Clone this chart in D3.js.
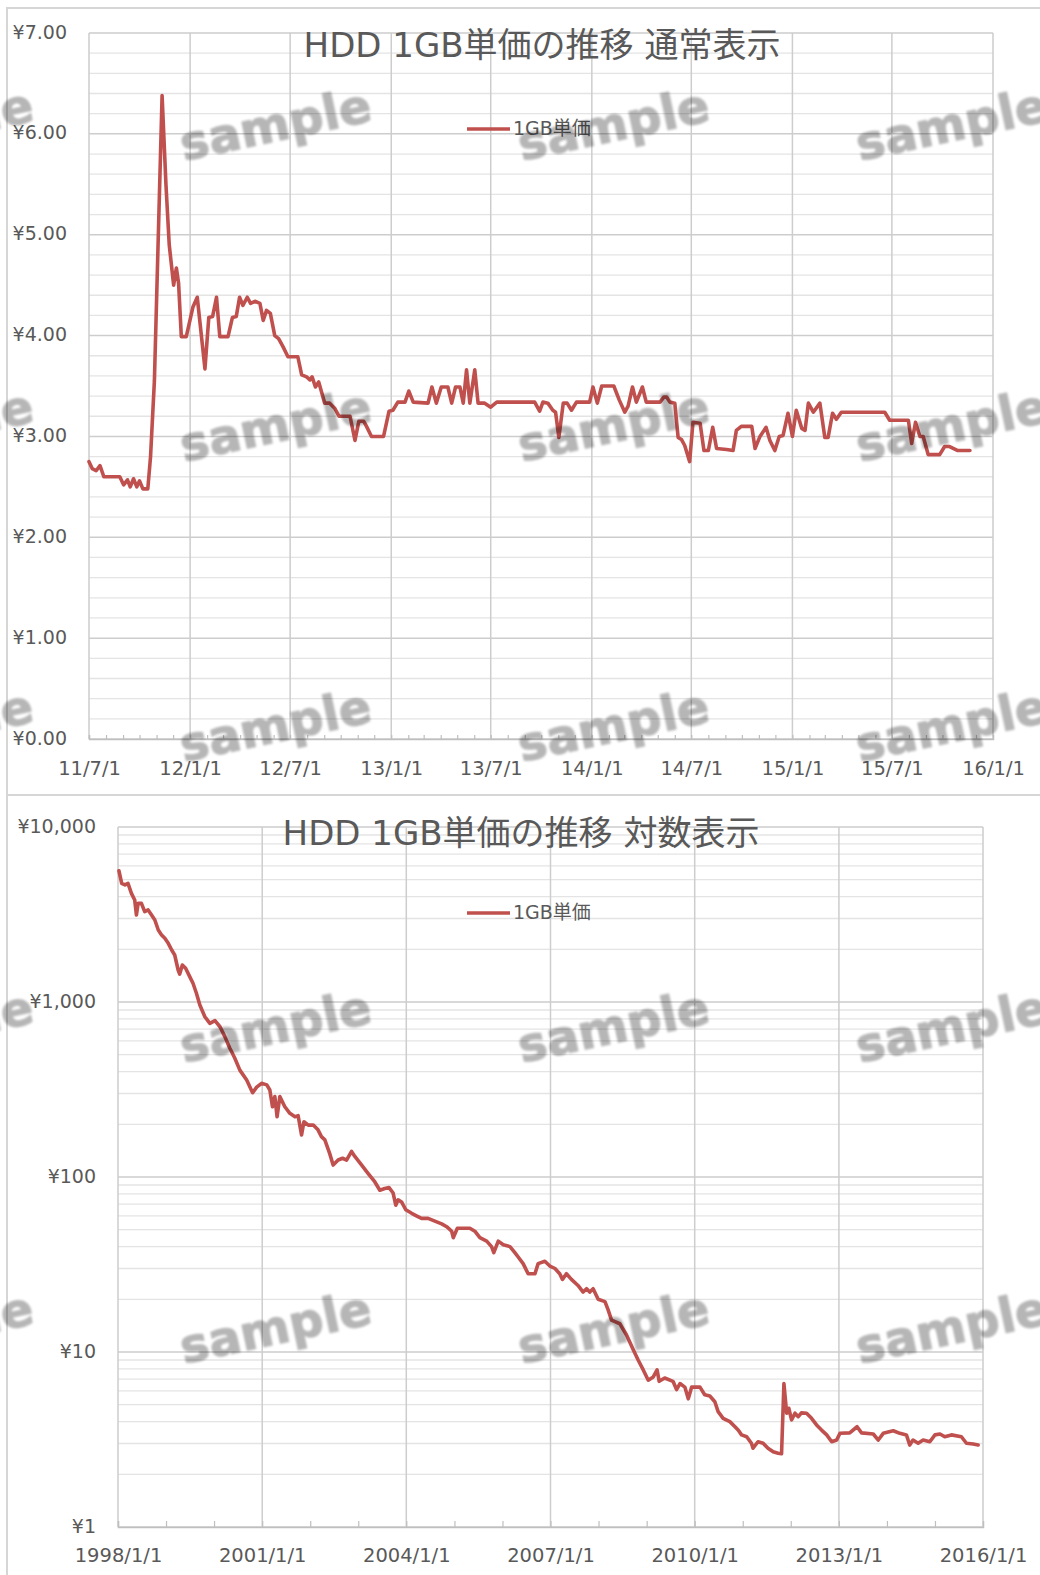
<!DOCTYPE html>
<html>
<head>
<meta charset="utf-8">
<script src="https://cdn.jsdelivr.net/npm/d3@7"></script>
<style>
  html, body { margin: 0; padding: 0; background: #fff; }
  svg { display: block; }
  text { font-family: "DejaVu Sans", "Noto Sans CJK JP", sans-serif; }
</style>
</head>
<body>
<svg id="chart" width="1040" height="1575"></svg>
<script>
// ---- 通常表示: 2011/7 - 2015/11 の 1GB 単価 (円) ----
const linearDates = [
  "2011-07-01","2011-07-07","2011-07-14","2011-07-21","2011-07-28","2011-08-26","2011-09-02","2011-09-09",
  "2011-09-14","2011-09-20","2011-09-26","2011-10-01","2011-10-07","2011-10-16","2011-10-21","2011-10-28",
  "2011-11-11","2011-11-18","2011-11-24","2011-12-02","2011-12-07","2011-12-11","2011-12-16","2011-12-25",
  "2012-01-06","2012-01-14","2012-01-28","2012-02-04","2012-02-11","2012-02-18","2012-02-24","2012-03-10",
  "2012-03-18","2012-03-25","2012-03-31","2012-04-06","2012-04-14","2012-04-20","2012-04-28","2012-05-07",
  "2012-05-13","2012-05-19","2012-05-26","2012-06-03","2012-06-10","2012-06-18","2012-06-27","2012-07-15",
  "2012-07-22","2012-07-31","2012-08-06","2012-08-10","2012-08-16","2012-08-22","2012-09-02","2012-09-11",
  "2012-09-20","2012-09-28","2012-10-18","2012-10-27","2012-11-03","2012-11-12","2012-11-17","2012-11-26",
  "2012-12-18","2012-12-28","2013-01-04","2013-01-13","2013-01-26","2013-02-02","2013-02-10","2013-03-09",
  "2013-03-16","2013-03-24","2013-04-02","2013-04-14","2013-04-21","2013-04-28","2013-05-06","2013-05-12",
  "2013-05-18","2013-05-24","2013-06-02","2013-06-08","2013-06-20","2013-07-01","2013-07-12","2013-09-19",
  "2013-09-28","2013-10-04","2013-10-13","2013-10-22","2013-10-27","2013-11-02","2013-11-10","2013-11-17",
  "2013-11-25","2013-12-04","2013-12-28","2014-01-03","2014-01-11","2014-01-19","2014-02-10","2014-02-20",
  "2014-03-02","2014-03-08","2014-03-16","2014-03-23","2014-04-03","2014-04-10","2014-05-05","2014-05-12",
  "2014-05-17","2014-05-23","2014-06-01","2014-06-07","2014-06-13","2014-06-19","2014-06-28","2014-07-04",
  "2014-07-17","2014-07-24","2014-08-01","2014-08-09","2014-08-16","2014-09-03","2014-09-15","2014-09-21",
  "2014-09-30","2014-10-19","2014-10-25","2014-11-03","2014-11-14","2014-11-21","2014-11-30","2014-12-08",
  "2014-12-15","2014-12-24","2015-01-01","2015-01-08","2015-01-18","2015-01-24","2015-01-30","2015-02-08",
  "2015-02-20","2015-03-01","2015-03-07","2015-03-15","2015-03-22","2015-03-31","2015-06-18","2015-06-27",
  "2015-07-31","2015-08-06","2015-08-13","2015-08-21","2015-08-27","2015-09-05","2015-09-26","2015-10-05",
  "2015-10-14","2015-10-29","2015-11-20"
];
const linearPrices = [
  2.75,2.68,2.66,2.71,2.60,2.60,2.52,2.57,
  2.50,2.58,2.50,2.56,2.48,2.48,2.80,3.55,
  6.38,5.50,4.90,4.50,4.67,4.52,3.99,3.99,
  4.28,4.38,3.67,4.18,4.19,4.38,3.99,3.99,
  4.18,4.19,4.38,4.30,4.38,4.32,4.34,4.32,
  4.15,4.25,4.22,4.00,3.97,3.89,3.79,3.79,
  3.61,3.59,3.56,3.59,3.49,3.54,3.33,3.33,
  3.28,3.20,3.20,2.96,3.15,3.15,3.10,3.00,
  3.00,3.25,3.26,3.34,3.34,3.45,3.34,3.33,
  3.49,3.33,3.49,3.49,3.33,3.49,3.49,3.33,
  3.66,3.33,3.66,3.33,3.33,3.29,3.34,3.34,
  3.25,3.34,3.33,3.26,3.24,2.99,3.33,3.33,
  3.26,3.34,3.34,3.49,3.33,3.50,3.50,3.36,
  3.24,3.30,3.49,3.34,3.49,3.34,3.34,3.39,
  3.39,3.34,3.33,2.99,2.97,2.91,2.75,3.14,
  3.13,2.86,2.86,3.09,2.88,2.87,2.86,3.06,
  3.10,3.10,2.88,3.00,3.09,2.96,2.86,3.00,
  3.01,3.23,3.00,3.26,3.08,3.06,3.33,3.24,
  3.33,2.99,2.99,3.23,3.17,3.24,3.24,3.16,
  3.16,2.93,3.14,3.00,3.00,2.82,2.82,2.90,
  2.90,2.86,2.86
];

// ---- 対数表示: 1998/1 - 2015/11 の 1GB 単価 (円) ----
const logDates = [
  "1998-01-08","1998-01-29","1998-02-23","1998-03-18","1998-04-13","1998-05-08","1998-05-21","1998-06-03",
  "1998-06-28","1998-07-23","1998-08-18","1998-09-13","1998-10-08","1998-11-03","1998-11-28","1998-12-23",
  "1999-01-18","1999-02-13","1999-03-08","1999-04-03","1999-04-15","1999-05-05","1999-05-30","1999-06-30",
  "1999-07-25","1999-08-20","1999-09-15","1999-10-23","1999-11-30","2000-01-08","2000-02-15","2000-03-23",
  "2000-04-30","2000-06-07","2000-07-15","2000-09-05","2000-10-20","2000-11-20","2000-12-27","2001-02-05",
  "2001-02-28","2001-03-20","2001-04-07","2001-04-24","2001-05-15","2001-06-22","2001-07-30","2001-09-07",
  "2001-10-01","2001-10-27","2001-11-14","2001-12-17","2002-01-24","2002-03-01","2002-03-27","2002-04-22",
  "2002-05-29","2002-06-24","2002-08-01","2002-09-04","2002-10-04","2002-11-11","2002-12-06","2003-01-27",
  "2003-03-16","2003-05-06","2003-06-14","2003-07-21","2003-08-23","2003-09-23","2003-10-13","2003-10-31",
  "2003-11-26","2003-12-28","2004-02-11","2004-03-18","2004-04-26","2004-06-15","2004-08-05","2004-09-26",
  "2004-11-03","2004-12-11","2004-12-23","2005-01-23","2005-03-08","2005-04-28","2005-06-05","2005-07-13",
  "2005-09-03","2005-10-10","2005-10-27","2005-11-30","2006-01-07","2006-02-27","2006-04-05","2006-04-29",
  "2006-06-07","2006-07-15","2006-09-05","2006-09-29","2006-11-19","2006-12-27","2007-02-04","2007-03-12",
  "2007-04-02","2007-05-02","2007-06-09","2007-07-29","2007-09-06","2007-10-02","2007-10-26","2007-11-21",
  "2007-12-29","2008-02-19","2008-03-14","2008-04-09","2008-06-11","2008-08-01","2008-09-21","2008-10-28",
  "2008-12-06","2009-01-13","2009-02-20","2009-03-21","2009-04-06","2009-05-18","2009-07-20","2009-08-16",
  "2009-09-11","2009-10-18","2009-11-13","2009-12-09","2010-02-10","2010-03-18","2010-04-26","2010-06-03",
  "2010-06-28","2010-08-05","2010-09-25","2010-11-03","2010-11-27","2010-12-23","2011-01-31","2011-03-08",
  "2011-03-20","2011-04-27","2011-06-05","2011-07-12","2011-08-20","2011-09-27","2011-10-23","2011-11-10",
  "2011-12-01","2011-12-17","2012-01-07","2012-02-02","2012-02-27","2012-03-22","2012-04-30","2012-06-07",
  "2012-07-15","2012-08-22","2012-09-30","2012-11-07","2012-12-15","2013-01-09","2013-03-24","2013-05-19",
  "2013-06-22","2013-09-19","2013-10-27","2013-12-04","2014-02-18","2014-04-09","2014-05-29","2014-06-23",
  "2014-07-18","2014-08-26","2014-10-03","2014-11-23","2015-01-01","2015-02-08","2015-03-16","2015-05-06",
  "2015-07-21","2015-08-28","2015-10-18","2015-11-25"
];
const logPrices = [
  5624,4766,4665,4766,4178,3828,3140,3663,
  3663,3281,3357,3140,2942,2579,2415,2311,
  2164,1982,1856,1524,1445,1627,1558,1396,
  1280,1122,961,824,755,782,722,634,
  544,477,408,358,303,326,343,336,
  314,252,288,221,288,252,231,221,
  224,174,207,198,198,186,170,163,
  136,117,125,128,125,140,131,117,
  105,94,84,86,87,81,69,74,
  72,65,62,60,58,58,56,54,
  52,49,45,51,51,51,49,45,
  43,40,37,43,41,40,37,35,
  32,28,28,32,33,31,30,28,
  26,28,26,24,22,23,22,23,
  20,19.4,17.4,15.2,14.5,12.5,10.3,9.0,
  7.9,6.9,7.2,7.9,6.8,7.1,6.8,6.1,
  6.6,6.3,5.4,6.3,6.3,5.7,5.6,5.2,
  4.56,4.18,4.0,3.74,3.58,3.36,3.28,3.01,
  2.82,3.07,3.01,2.82,2.69,2.64,2.62,6.6,
  4.47,4.77,4.09,4.47,4.27,4.49,4.47,4.18,
  3.83,3.58,3.36,3.07,3.14,3.43,3.45,3.74,
  3.45,3.40,3.14,3.43,3.55,3.43,3.36,2.94,
  3.14,3.01,3.14,3.07,3.36,3.40,3.28,3.36,
  3.28,3.01,2.98,2.94
];

// 軸の目盛
const linearXTicks = ["2011-07-01","2012-01-01","2012-07-01","2013-01-01","2013-07-01",
                      "2014-01-01","2014-07-01","2015-01-01","2015-07-01","2016-01-01"];
const linearYTicks = [0, 1, 2, 3, 4, 5, 6, 7];
const logXTicks = ["1998-01-01","2001-01-01","2004-01-01","2007-01-01","2010-01-01","2013-01-01","2016-01-01"];
const logYTicks = [1, 10, 100, 1000, 10000];

const seriesName = "1GB単価";
const chartTitles = ["HDD 1GB単価の推移 通常表示", "HDD 1GB単価の推移 対数表示"];

// ---- 描画 ----
const parse = d3.timeParse("%Y-%m-%d");
const svg = d3.select("#chart");

const LINE = "#c0504d";
const TEXT = "#595959";
const GRID_MAJOR = "#cdcdcd";
const GRID_MINOR = "#e4e4e4";
const FRAME = "#d6d6d6";

// chart frames
svg.append("rect").attr("x", 7).attr("y", 8).attr("width", 1100).attr("height", 787)
  .attr("fill", "#fff").attr("stroke", FRAME).attr("stroke-width", 2);
svg.append("rect").attr("x", 7).attr("y", 795).attr("width", 1100).attr("height", 900)
  .attr("fill", "#fff").attr("stroke", FRAME).attr("stroke-width", 2);

function drawPanel(opt) {
  const g = svg.append("g");
  const { x, y, box } = opt;

  // minor horizontal grid
  g.append("g").selectAll("line").data(opt.minorY).join("line")
    .attr("x1", box.left).attr("x2", box.right)
    .attr("y1", d => y(d)).attr("y2", d => y(d))
    .attr("stroke", GRID_MINOR).attr("stroke-width", 1.3);

  // major horizontal grid
  g.append("g").selectAll("line").data(opt.yTicks).join("line")
    .attr("x1", box.left).attr("x2", box.right)
    .attr("y1", d => y(d)).attr("y2", d => y(d))
    .attr("stroke", GRID_MAJOR).attr("stroke-width", 1.5);

  // vertical grid
  g.append("g").selectAll("line").data(opt.xTicks).join("line")
    .attr("x1", d => x(d)).attr("x2", d => x(d))
    .attr("y1", box.top).attr("y2", box.bottom)
    .attr("stroke", GRID_MAJOR).attr("stroke-width", 1.5);

  // x axis with minor ticks pointing up
  const xAxisG = g.append("g").attr("transform", `translate(0,${box.bottom})`)
    .call(d3.axisBottom(x).tickValues(opt.minorX).tickSize(-opt.minorTick).tickFormat(""));
  xAxisG.select(".domain").attr("stroke", "#bfbfbf").attr("stroke-width", 1.5);
  xAxisG.selectAll(".tick line").attr("stroke", "#bfbfbf").attr("stroke-width", 1.2);

  const xLabels = g.append("g").attr("transform", `translate(0,${box.bottom})`)
    .call(d3.axisBottom(x).tickValues(opt.xTicks).tickSize(0).tickFormat(opt.xFormat));
  xLabels.select(".domain").remove();
  xLabels.selectAll("text")
    .attr("y", opt.xLabelOffset).attr("dy", 0)
    .attr("fill", TEXT).style("font-size", "19.5px")
    .style("font-family", '"DejaVu Sans", sans-serif');

  const yLabels = g.append("g").attr("transform", `translate(${box.left},0)`)
    .call(d3.axisLeft(y).tickValues(opt.yTicks).tickSize(0).tickFormat(opt.yFormat));
  yLabels.select(".domain").remove();
  yLabels.selectAll("text")
    .attr("x", -22).attr("y", 5).attr("dy", 0)
    .attr("fill", TEXT).style("font-size", "19px")
    .style("font-family", '"DejaVu Sans", sans-serif');

  // title
  g.append("text").attr("x", opt.titleX).attr("y", opt.titleY)
    .attr("text-anchor", "middle").attr("fill", TEXT)
    .style("font-size", "34px").text(opt.title);

  // legend
  g.append("line").attr("x1", 467).attr("x2", 510)
    .attr("y1", opt.legendY).attr("y2", opt.legendY)
    .attr("stroke", LINE).attr("stroke-width", 3.5);
  g.append("text").attr("x", 513).attr("y", opt.legendY + 6)
    .attr("fill", TEXT).style("font-size", "19px").text(seriesName);

  // series line
  const pts = opt.dates.map((d, i) => [parse(d), opt.values[i]]);
  g.append("path").datum(pts)
    .attr("fill", "none").attr("stroke", LINE).attr("stroke-width", 3.6)
    .attr("stroke-linejoin", "round").attr("stroke-linecap", "round")
    .attr("d", d3.line().x(d => x(d[0])).y(d => y(d[1])));
}

// 通常表示
{
  const box = { left: 89, right: 993, top: 33, bottom: 739 };
  const xt = linearXTicks.map(parse);
  const x = d3.scaleTime().domain([xt[0], xt[xt.length - 1]]).range([box.left, box.right]);
  const y = d3.scaleLinear().domain([0, 7]).range([box.bottom, box.top]);
  drawPanel({
    x, y, box,
    xTicks: xt,
    minorX: d3.timeMonth.range(xt[0], xt[xt.length - 1]),
    minorTick: 4,
    yTicks: linearYTicks,
    minorY: d3.range(0, 35).map(i => i * 0.2).filter(v => Math.abs(v - Math.round(v)) > 1e-6),
    xFormat: d3.timeFormat("%y/%-m/%-d"),
    yFormat: d => "¥" + d3.format(".2f")(d),
    xLabelOffset: 36,
    title: chartTitles[0], titleX: 542, titleY: 57,
    legendY: 129,
    dates: linearDates, values: linearPrices
  });
}

// 対数表示
{
  const box = { left: 118, right: 983, top: 827, bottom: 1527 };
  const xt = logXTicks.map(parse);
  const x = d3.scaleTime().domain([xt[0], xt[xt.length - 1]]).range([box.left, box.right]);
  const y = d3.scaleLog().domain([1, 10000]).range([box.bottom, box.top]);
  const minorY = [];
  [1, 10, 100, 1000].forEach(dec => { for (let k = 2; k <= 9; k++) minorY.push(dec * k); });
  drawPanel({
    x, y, box,
    xTicks: xt,
    minorX: d3.timeYear.range(xt[0], xt[xt.length - 1]),
    minorTick: 6,
    yTicks: logYTicks,
    minorY,
    xFormat: d3.timeFormat("%Y/%-m/%-d"),
    yFormat: d => "¥" + d3.format(",")(d),
    xLabelOffset: 35,
    title: chartTitles[1], titleX: 521, titleY: 845,
    legendY: 913,
    dates: logDates, values: logPrices
  });
}

// "sample" overlay stamps
const defs = svg.append("defs");
defs.append("filter").attr("id", "soft")
  .append("feGaussianBlur").attr("stdDeviation", 0.9);
const stamp = svg.append("g").attr("filter", "url(#soft)").attr("opacity", 0.29);
for (let r = 0; r < 5; r++) {
  for (let c = 0; c < 4; c++) {
    const cx = -62 + 338 * c;
    const cy = 127 + 300.7 * r;
    stamp.append("text")
      .attr("x", cx).attr("y", cy + 14)
      .attr("text-anchor", "middle")
      .attr("transform", `rotate(-12,${cx},${cy})`)
      .attr("fill", "#000").attr("stroke", "#000").attr("stroke-width", 1.2)
      .attr("stroke-linejoin", "round")
      .style("font-family", '"DejaVu Sans", sans-serif')
      .style("font-weight", "bold").style("font-size", "48px")
      .text("sample");
  }
}
</script>
</body>
</html>
